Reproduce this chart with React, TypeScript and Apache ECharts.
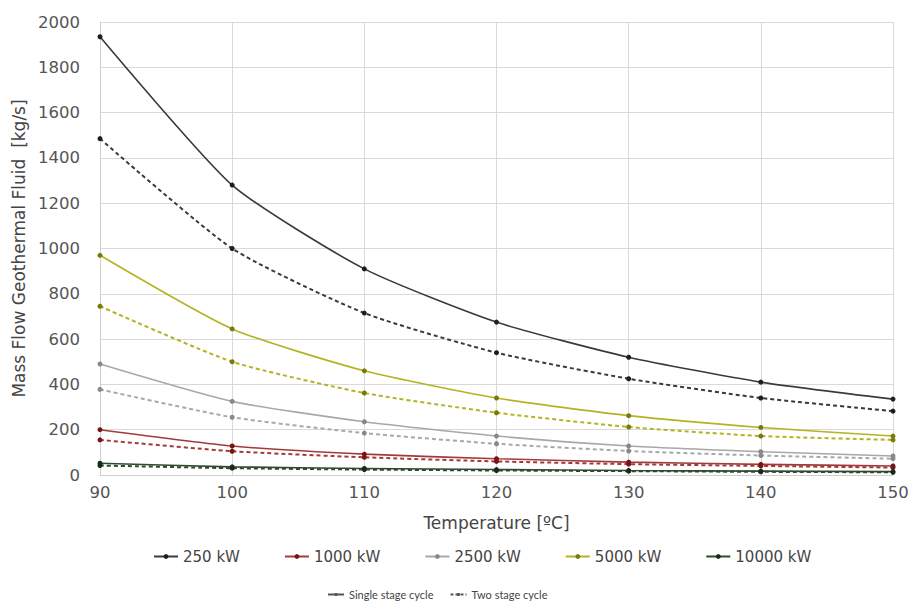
import React, { useEffect, useRef } from "react";
import * as echarts from "echarts";

// Inlet temperature of the geothermal fluid [°C]
const temperatures = [90, 100, 110, 120, 130, 140, 150];

// Net power classes shown in the legend
const powerClasses = ["250 kW", "1000 kW", "2500 kW", "5000 kW", "10000 kW"];

// Mass flow of geothermal fluid [kg/s], single stage cycle
const single250 = [1935, 1280, 910, 675, 520, 410, 335];
const single1000 = [200, 128, 92, 72, 57, 47, 40];
const single2500 = [490, 325, 235, 172, 128, 103, 84];
const single5000 = [970, 645, 460, 340, 262, 210, 172];
const single10000 = [52, 36, 29, 24, 20, 17, 15];

// Mass flow of geothermal fluid [kg/s], two stage cycle
const two250 = [1485, 1000, 715, 540, 425, 340, 282];
const two1000 = [155, 105, 78, 60, 48, 40, 33];
const two2500 = [378, 255, 185, 138, 106, 86, 72];
const two5000 = [745, 500, 362, 275, 212, 172, 155];
const two10000 = [42, 30, 24, 20, 17, 14, 12];

const singleSets = [single250, single1000, single2500, single5000, single10000];
const twoSets = [two250, two1000, two2500, two5000, two10000];

const lineColors = ["#3a3a3a", "#a33a3a", "#a8a8a8", "#b3b324", "#2f4a2f"];
const markerColors = ["#1e1e1e", "#7a1414", "#888888", "#7a7a08", "#1a2a1a"];

const FONT = "DejaVu Sans";

export default function App() {
  const ref = useRef<HTMLDivElement>(null);

  useEffect(() => {
    if (!ref.current) return;
    const chart = echarts.init(ref.current, null, { renderer: "svg" });

    const toPairs = (vals: number[]) => temperatures.map((t, i) => [t, vals[i]]);

    const series: any[] = [];
    powerClasses.forEach((name, k) => {
      series.push({
        name,
        type: "line",
        data: toPairs(singleSets[k]),
        smooth: 0.2,
        symbol: "circle",
        symbolSize: 5,
        lineStyle: { color: lineColors[k], width: 1.6, type: "solid" },
        itemStyle: { color: markerColors[k] },
        z: 3,
      });
    });
    powerClasses.forEach((name, k) => {
      series.push({
        name: name + " two stage",
        type: "line",
        data: toPairs(twoSets[k]),
        smooth: 0.2,
        symbol: "circle",
        symbolSize: 5,
        lineStyle: { color: lineColors[k], width: 2, type: [4, 3] },
        itemStyle: { color: markerColors[k] },
        z: 2,
      });
    });
    // Entries that only explain the line styles
    series.push({
      name: "Single stage cycle",
      type: "line",
      data: [],
      symbol: "none",
      lineStyle: { color: "#555", width: 1.2, type: "solid" },
      itemStyle: { color: "#555" },
    });
    series.push({
      name: "Two stage cycle",
      type: "line",
      data: [],
      symbol: "none",
      lineStyle: { color: "#555", width: 1.2, type: [3, 2] },
      itemStyle: { color: "#555" },
    });

    chart.setOption({
      animation: false,
      backgroundColor: "#ffffff",
      grid: { left: 100, right: 23, top: 22, bottom: 132 },
      legend: [
        {
          data: powerClasses,
          top: 544,
          left: 148,
          itemWidth: 24,
          itemHeight: 6,
          itemGap: 44,
          textStyle: { fontFamily: FONT, fontSize: 15, color: "#444" },
        },
        {
          data: ["Single stage cycle", "Two stage cycle"],
          top: 584,
          left: 322,
          itemWidth: 16,
          itemHeight: 4,
          itemGap: 16,
          textStyle: { fontFamily: "Lato", fontSize: 11, color: "#444" },
        },
      ],
      xAxis: {
        type: "value",
        min: 90,
        max: 150,
        interval: 10,
        name: "Temperature [ºC]",
        nameLocation: "middle",
        nameGap: 39,
        nameTextStyle: { fontFamily: FONT, fontSize: 17, color: "#444" },
        axisLine: { show: true, lineStyle: { color: "#cfcfcf" } },
        axisTick: { show: false },
        axisLabel: { fontFamily: FONT, fontSize: 16.5, color: "#555", margin: 9 },
        splitLine: { show: true, lineStyle: { color: "#d9d9d9", width: 1 } },
      },
      yAxis: {
        type: "value",
        min: 0,
        max: 2000,
        interval: 200,
        name: "Mass Flow Geothermal Fluid  [kg/s]",
        nameLocation: "middle",
        nameGap: 70,
        nameTextStyle: { fontFamily: FONT, fontSize: 17, color: "#444" },
        axisLine: { show: true, lineStyle: { color: "#cfcfcf" } },
        axisTick: { show: false },
        axisLabel: {
          fontFamily: FONT,
          fontSize: 16.5,
          color: "#555",
          margin: 20,
          formatter: (v: number) => String(v),
        },
        splitLine: { show: true, lineStyle: { color: "#d9d9d9", width: 1 } },
      },
      series,
    });

    return () => chart.dispose();
  }, []);

  return (
    <div
      ref={ref}
      style={{ position: "fixed", left: 0, top: 0, width: 916, height: 607 }}
    />
  );
}
